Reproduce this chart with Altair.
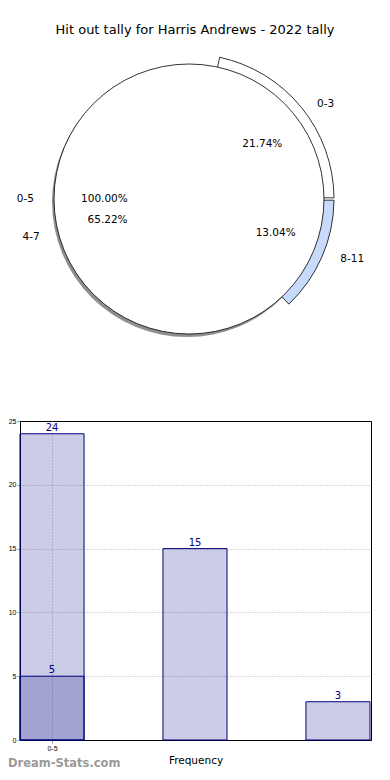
import math
import altair as alt
import pandas as pd

# ---------------- data ----------------
title_text = "Hit out tally for Harris Andrews - 2022 tally"

# outer (exploded) pie
pie_labels = ["0-3", "4-7", "8-11"]
pie_values = [5, 15, 3]
pie_colors = ["#ffffff", "#ffffff", "#c8dafc"]
pie_explode = [0.07, 0.0, 0.07]

# full pie drawn on top
full_labels = ["0-5"]
full_values = [5]

# bar chart
bar_positions = [0, 0, 1, 2]
bar_values = [24, 5, 15, 3]
x_tick_values = [0]
x_tick_labels = ["0-5"]
y_ticks = [0, 5, 10, 15, 20, 25]

watermark = "Dream-Stats.com"

# ---------------- layout constants ----------------
FONT = "DejaVu Sans"
PAD = {"left": 12, "top": 413, "right": 8, "bottom": 31}
BAR_W, BAR_H = 351, 319
# pie geometry, relative to the bar plot origin
CX, CY = 169, -222
RX, RY = 141, 129          # ellipse half axes used for label placement
R = 135                    # drawn radius
RING = 10
BAR_HALF = 0.224
GRID = dict(grid=True, gridColor="#b4b4b4", gridDash=[1, 2], gridWidth=1)


def pie_frame(labels, values, colors, explode):
    total = float(sum(values))
    rows, cum = [], 0.0
    for lab, v, c, e in zip(labels, values, colors, explode):
        f = v / total
        a0, a1 = cum * 360.0, (cum + f) * 360.0      # ccw from 3 o'clock
        mid = math.radians((a0 + a1) / 2.0)
        rows.append(dict(
            label=lab, value=v, color=c, explode=e,
            t0=1.0 - (cum + f), t1=1.0 - cum,
            pct=f"{f * 100:.2f}%",
            lx=math.cos(mid) * (1.1 + e), ly=math.sin(mid) * (1.1 + e),
            px=math.cos(mid) * (0.6 + e), py=math.sin(mid) * (0.6 + e),
        ))
        cum += f
    return pd.DataFrame(rows)


outer = pie_frame(pie_labels, pie_values, pie_colors, pie_explode)
full = pie_frame(full_labels, full_values, ["#ffffff"], [0.0])
labels_all = pd.concat([outer, full], ignore_index=True)
labels_all["side"] = ["right" if v > 0 else "left" for v in labels_all["lx"]]

theta_scale = alt.Scale(domain=[0, 1], range=[math.pi / 2, math.pi / 2 + 2 * math.pi])
xs = alt.Scale(domain=[-1, 1], range=[CX - RX, CX + RX])
ys = alt.Scale(domain=[-1, 1], range=[CY + RY, CY - RY])

shadow = alt.Chart(full).mark_arc(radius=R, fill="#333333", opacity=0.55).encode(
    theta=alt.Theta("t0:Q", scale=theta_scale), theta2="t1:Q",
    x=alt.value(CX - 2), y=alt.value(CY + 3),
)

rings = alt.Chart(outer).transform_filter("datum.explode > 0").mark_arc(
    radius=R + RING, radius2=R - 1, stroke="black", strokeWidth=0.8, padAngle=0.012
).encode(
    theta=alt.Theta("t0:Q", scale=theta_scale), theta2="t1:Q",
    fill=alt.Fill("color:N", scale=None),
    x=alt.value(CX), y=alt.value(CY),
)

big = alt.Chart(full).mark_arc(radius=R, fill="white", stroke="black", strokeWidth=0.8).encode(
    theta=alt.Theta("t0:Q", scale=theta_scale), theta2="t1:Q",
    x=alt.value(CX), y=alt.value(CY),
)

lab_right = alt.Chart(labels_all).transform_filter("datum.side == 'right'").mark_text(
    align="left", baseline="middle", font=FONT, fontSize=10.5, color="black"
).encode(x=alt.X("lx:Q", scale=xs, axis=None), y=alt.Y("ly:Q", scale=ys, axis=None), text="label:N")

lab_left = alt.Chart(labels_all).transform_filter("datum.side == 'left'").mark_text(
    align="right", baseline="middle", font=FONT, fontSize=10.5, color="black"
).encode(x=alt.X("lx:Q", scale=xs, axis=None), y=alt.Y("ly:Q", scale=ys, axis=None), text="label:N")

pct = alt.Chart(labels_all).mark_text(
    align="center", baseline="middle", font=FONT, fontSize=10.5, color="black"
).encode(x=alt.X("px:Q", scale=xs, axis=None), y=alt.Y("py:Q", scale=ys, axis=None), text="pct:N")

title = alt.Chart(pd.DataFrame({"t": [title_text]})).mark_text(
    font=FONT, fontSize=13, color="black", align="center", baseline="middle"
).encode(x=alt.value(175), y=alt.value(-391), text="t:N")

pie = alt.layer(shadow, rings, big, lab_right, lab_left, pct, title)

# ---------------- bar chart ----------------
bars_df = pd.DataFrame({"pos": bar_positions, "val": bar_values})
label_js = "{" + ",".join(f"'{v}':'{t}'" for v, t in zip(x_tick_values, x_tick_labels)) + "}"

xb = alt.Scale(domain=[-BAR_HALF, 2 + BAR_HALF + 0.007], nice=False, zero=False)
yb = alt.Scale(domain=[0, 25], nice=False)

base = alt.Chart(bars_df)

bars = base.transform_calculate(
    left=f"datum.pos - {BAR_HALF}", right=f"datum.pos + {BAR_HALF}"
).mark_bar(fill="#000080", fillOpacity=0.2, stroke="#000080", strokeWidth=1).encode(
    x=alt.X("left:Q", scale=xb, axis=alt.Axis(
        orient="bottom", values=x_tick_values, labelExpr=f"{label_js}[datum.value]",
        title="Frequency", titleFont=FONT, titleFontSize=10.5, titleFontWeight="normal",
        titleColor="black", titlePadding=4,
        labelFont="Liberation Sans", labelFontSize=7, labelColor="black", labelPadding=1,
        tickColor="#999999", tickSize=3, domainColor="black", **GRID)),
    x2="right:Q",
    y=alt.Y("val:Q", scale=yb, axis=alt.Axis(
        orient="left", values=y_ticks, title=None,
        labelFont="Liberation Sans", labelFontSize=7, labelColor="black", labelPadding=1,
        tickColor="#999999", tickSize=3, domainColor="black",
        gridOpacity={"condition": {"test": "datum.value >= 25", "value": 0}, "value": 1},
        **GRID)),
    y2=alt.datum(0),
)

bar_text = base.mark_text(
    baseline="bottom", dy=-1, font=FONT, fontSize=10, color="#000080"
).encode(x=alt.X("pos:Q", scale=xb), y=alt.Y("val:Q", scale=yb), text="val:Q")

wm = alt.Chart(pd.DataFrame({"t": [watermark]})).mark_text(
    align="left", baseline="middle", font=FONT, fontSize=11.5, fontWeight="bold", color="#9a9a9a"
).encode(x=alt.value(-12), y=alt.value(343), text="t:N")

bar = alt.layer(bars, bar_text, wm)

chart = alt.layer(bar, pie).resolve_scale(
    x="independent", y="independent"
).properties(
    width=BAR_W, height=BAR_H,
    autosize=alt.AutoSizeParams(type="none"),
    padding=PAD,
).configure(font=FONT).configure_view(stroke="black", strokeWidth=1)

chart.save("out.html", embed_options={"renderer": "svg", "actions": False})
